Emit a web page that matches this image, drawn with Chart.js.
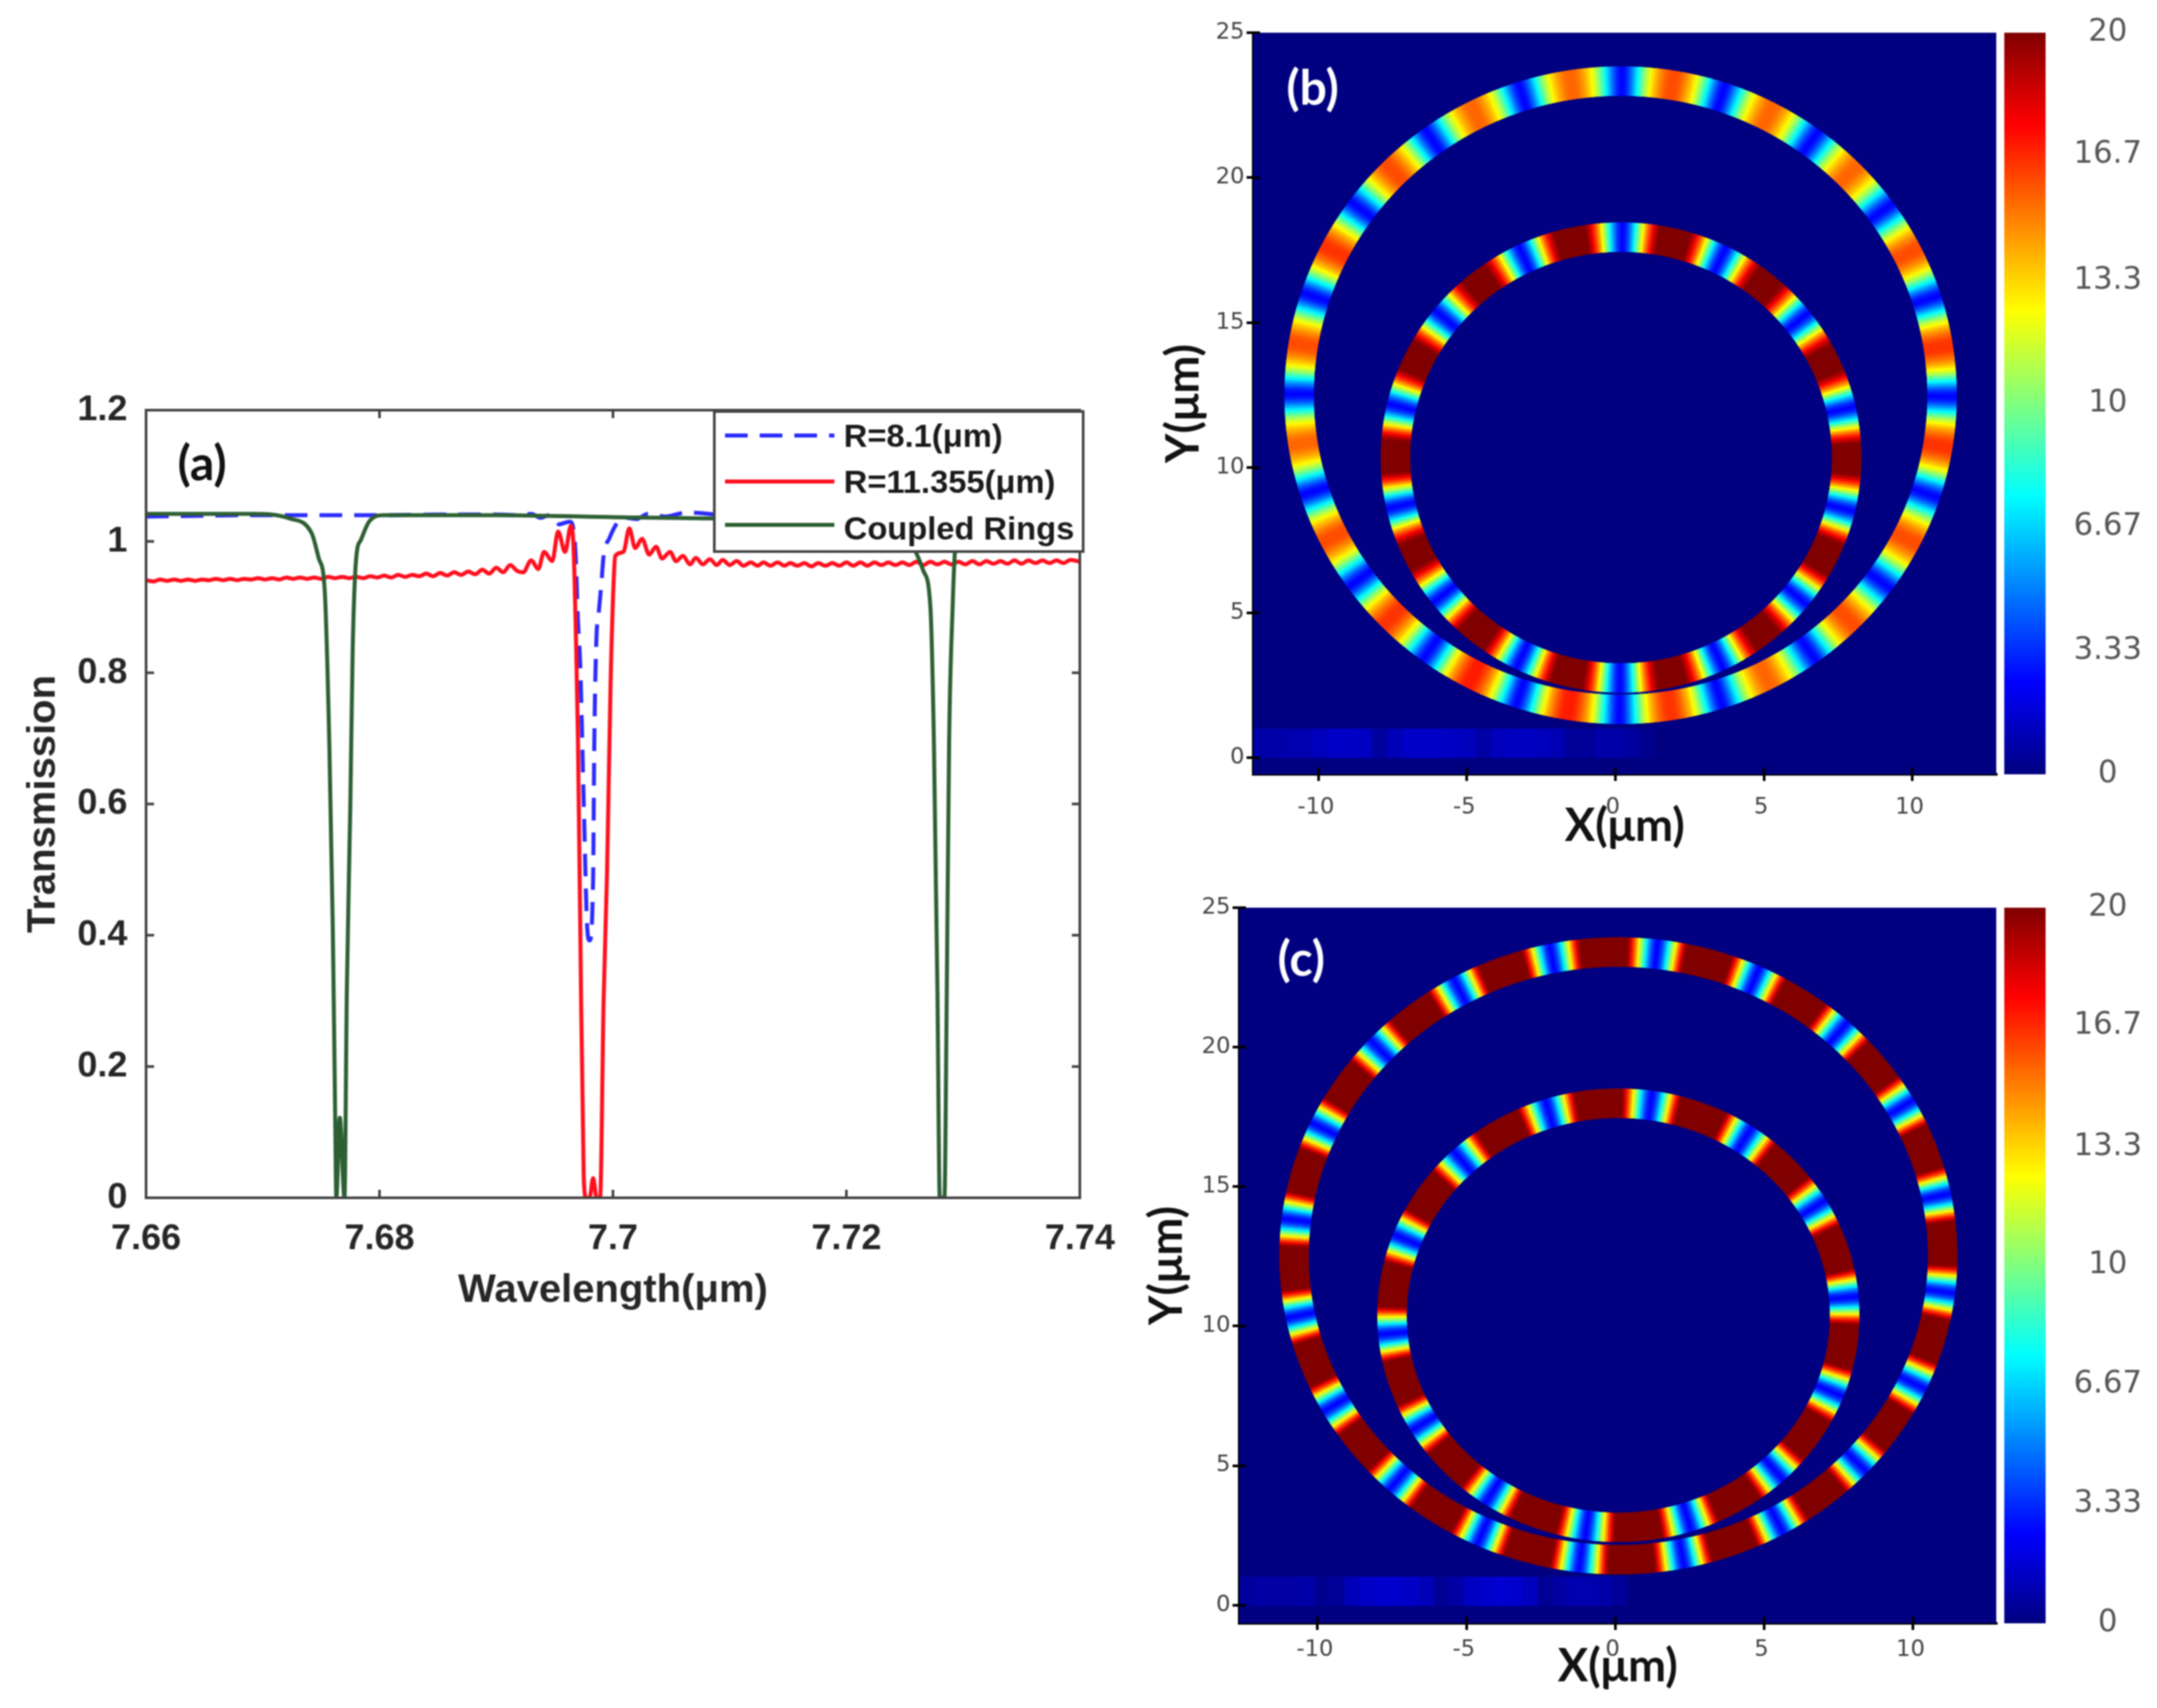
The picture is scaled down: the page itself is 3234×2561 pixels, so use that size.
<!DOCTYPE html>
<html>
<head>
<meta charset="utf-8">
<title>Coupled rings</title>
<script src="https://cdn.jsdelivr.net/npm/chart.js@4"></script>
<style>
  html, body { margin: 0; background: #fff; }
  #page { position: relative; width: 3234px; height: 2561px; overflow: hidden; background: #fff; }
  canvas { position: absolute; filter: blur(1px); }
</style>
</head>
<body>
<div id="page">
  <canvas id="chartA" width="1700" height="1500" style="left:0;top:500px"></canvas>
  <canvas id="chartB" width="1310" height="1280" style="left:1700px;top:0"></canvas>
  <canvas id="barB" width="229" height="1240" style="left:3005px;top:0"></canvas>
  <canvas id="chartC" width="1310" height="1241" style="left:1700px;top:1320px"></canvas>
  <canvas id="barC" width="229" height="1241" style="left:3005px;top:1320px"></canvas>
</div>
<script>
// ── Data: panel (a) ──────────────────────────────────────────────────────────

const wavelengthTicks = [7.66, 7.68, 7.7, 7.72, 7.74];
const transmissionTicks = [0, 0.2, 0.4, 0.6, 0.8, 1, 1.2];
const seriesNames = ['R=8.1(μm)', 'R=11.355(μm)', 'Coupled Rings'];

const blueX = [7.66, 7.67, 7.68, 7.685, 7.69, 7.692, 7.693, 7.6938, 7.6945, 7.695, 7.6954, 7.6958, 7.6963, 7.6966,
  7.6968, 7.697, 7.6972, 7.6975, 7.6978, 7.698, 7.6983, 7.6984, 7.6986, 7.6987, 7.699, 7.6992, 7.6997, 7.7004,
  7.7011, 7.702, 7.703, 7.7045, 7.7063, 7.71, 7.74];
const blueY = [1.038, 1.04, 1.04, 1.041, 1.041, 1.04, 1.042, 1.036, 1.04, 1.034, 1.026, 1.028, 1.03, 1.02,
  0.98, 0.88, 0.81, 0.6, 0.41, 0.392, 0.485, 0.69, 0.86, 0.877, 0.934, 0.978, 1.005, 1.029,
  1.036, 1.034, 1.042, 1.038, 1.044, 1.04, 1.04];

const redX = [
  7.6600, 7.6606, 7.6612, 7.6618, 7.6624, 7.6630, 7.6636, 7.6642,
  7.6648, 7.6654, 7.6660, 7.6666, 7.6672, 7.6678, 7.6684, 7.6690,
  7.6696, 7.6702, 7.6708, 7.6714, 7.6720, 7.6726, 7.6732, 7.6738,
  7.6744, 7.6750, 7.6756, 7.6762, 7.6768, 7.6774, 7.6780, 7.6786,
  7.6792, 7.6798, 7.6804, 7.6810, 7.6816, 7.6822, 7.6828, 7.6834,
  7.6840, 7.6846, 7.6852, 7.6858, 7.6864, 7.6870, 7.6876, 7.6882,
  7.6888, 7.6894, 7.6900, 7.6906, 7.6912, 7.6918,
  7.6923, 7.6930, 7.6936, 7.6941, 7.6948, 7.6953, 7.6959, 7.6964, 7.6966, 7.6967,
  7.6968, 7.6970, 7.6972, 7.6975, 7.6977, 7.6980, 7.6983, 7.6986, 7.6989, 7.6992,
  7.6995, 7.6998, 7.7001, 7.7002, 7.7009, 7.7014, 7.7019, 7.7025, 7.7031, 7.7037,
  7.7042, 7.7049, 7.7054, 7.7060, 7.7066, 7.7071, 7.7077, 7.7083, 7.7089, 7.7094,
  7.7100, 7.7106, 7.7112, 7.7118, 7.7124, 7.7129, 7.7135, 7.7141, 7.7147, 7.7152,
  7.7158, 7.7164, 7.7170, 7.7176, 7.7182, 7.7188, 7.7194, 7.7200, 7.7206, 7.7212,
  7.7218, 7.7224, 7.7230, 7.7236, 7.7242, 7.7248, 7.7254, 7.7260, 7.7266, 7.7272,
  7.7278, 7.7284, 7.7290, 7.7296, 7.7302, 7.7308, 7.7314, 7.7320, 7.7326, 7.7332,
  7.7338, 7.7344, 7.7350, 7.7356, 7.7362, 7.7368, 7.7374, 7.7380, 7.7386, 7.7392, 7.7400
];
const redY = [
  0.941, 0.939, 0.942, 0.940, 0.942, 0.940, 0.942, 0.940,
  0.942, 0.941, 0.943, 0.941, 0.943, 0.941, 0.943, 0.942,
  0.944, 0.942, 0.944, 0.942, 0.945, 0.943, 0.945, 0.943,
  0.945, 0.943, 0.946, 0.944, 0.946, 0.944, 0.946, 0.944,
  0.947, 0.945, 0.948, 0.945, 0.949, 0.946, 0.949, 0.947,
  0.951, 0.947, 0.952, 0.948, 0.953, 0.949, 0.954, 0.950,
  0.957, 0.951, 0.960, 0.953, 0.964, 0.955,
  0.953, 0.971, 0.958, 0.984, 0.970, 1.015, 0.984, 1.024, 1.000, 0.950,
  0.877, 0.700, 0.410, 0.030, 0, 0, 0.030, 0, 0, 0.300,
  0.500, 0.786, 0.955, 0.978, 0.984, 1.020, 0.990, 1.004, 0.980, 0.992,
  0.974, 0.984, 0.970, 0.978, 0.965, 0.975, 0.965, 0.973, 0.964, 0.972,
  0.964, 0.970, 0.963, 0.968, 0.963, 0.968, 0.963, 0.968, 0.963, 0.967,
  0.963, 0.967, 0.962, 0.967, 0.963, 0.967, 0.963, 0.968, 0.963, 0.968,
  0.963, 0.968, 0.964, 0.968, 0.964, 0.968, 0.964, 0.969, 0.964, 0.969,
  0.965, 0.969, 0.965, 0.969, 0.965, 0.970, 0.965, 0.970, 0.966, 0.970,
  0.966, 0.971, 0.966, 0.971, 0.967, 0.971, 0.967, 0.971, 0.967, 0.972, 0.969
];

const greenX = [7.66, 7.6692, 7.6723, 7.6742, 7.6748, 7.6753, 7.6757, 7.676, 7.6762, 7.6763, 7.6766, 7.677, 7.6772,
  7.6775, 7.6777, 7.678, 7.6784, 7.6791, 7.6803, 7.69, 7.7, 7.71, 7.72, 7.7258, 7.7266, 7.7272, 7.7275, 7.7278,
  7.728, 7.7284, 7.7286, 7.7288, 7.7291, 7.7293, 7.7298, 7.731, 7.74];
const greenY = [1.042, 1.042, 1.035, 1.012, 0.974, 0.927, 0.692, 0.409, 0.127, 0, 0.122, 0, 0.315,
  0.598, 0.833, 0.974, 1.002, 1.03, 1.04, 1.04, 1.037, 1.035, 1.035, 0.988, 0.955, 0.899, 0.692, 0.315,
  0, 0, 0.315, 0.692, 0.899, 0.984, 1.02, 1.035, 1.035];

// ── Data: panels (b) and (c) ─────────────────────────────────────────────────

const xTicksUm = [-10, -5, 0, 5, 10];
const yTicksUm = [0, 5, 10, 15, 20, 25];
const colorbarTicks = [0, 3.33, 6.67, 10, 13.3, 16.7, 20];
const colorbarTop = [20];

// jet colour map: field value, then r, g, b
const jetValues = [0, 2.5, 7.5, 12.5, 17.5, 20];
const jetColors = [[0, 0, 128], [0, 0, 255], [0, 255, 255], [255, 255, 0], [255, 0, 0], [128, 0, 0]];

// share of a lobe's height, node to node, read across one fringe
const lobeProfile = [0, 0.02, 0.06, 0.12, 0.19, 0.27, 0.35, 0.43, 0.51, 0.59, 0.66, 0.72, 0.78, 0.83, 0.87,
  0.91, 0.94, 0.97, 0.99, 1, 1, 1, 0.99, 0.97, 0.94, 0.91, 0.87, 0.83, 0.78, 0.72, 0.66, 0.59,
  0.51, 0.43, 0.35, 0.27, 0.19, 0.12, 0.06, 0.02];
const nodeField = 2.5;

// dark nodes round each ring, in degrees, then the height of the lobe after each node
const outerNodesB = [90, 72, 54, 36, 18, 0, -18, -36, -54, -72, -90, -108, -126, -144, -162, -180, -198, -216, -234, -252];
const outerPeaksB = [13.5, 13, 13, 13.5, 14, 14, 13.5, 13.5, 13, 14, 14.5, 14.5, 14, 13.5, 13, 13.5, 14, 13.5, 13, 13];
const innerNodesB = [90, 64.3, 38.6, 12.9, -12.9, -38.6, -64.3, -90, -115.7, -141.4, -167.1, -192.9, -218.6, -244.3];
const innerPeaksB = [20, 19.5, 19.5, 20, 20.5, 19.5, 19.5, 20, 20, 19.5, 20.5, 20, 19.5, 20];
const outerNodesC = [83.5, 65.5, 47.5, 29.5, 11.5, -6.5, -24.5, -42.5, -60.5, -78.5, -96.5, -114.5, -132.5, -150.5,
  -168.5, -186.5, -204.5, -222.5, -240.5, -258];
const outerPeaksC = [24, 24, 24, 24, 24, 24, 24, 24, 24, 24, 24, 24, 24, 24, 24, 24, 24, 24, 24, 24];
const innerNodesC = [82.2, 56.5, 30.8, 5.1, -20.6, -46.3, -72, -97.7, -123.4, -149.1, -174.8, -200.5, -226.2, -251.9];
const innerPeaksC = [24, 24, 24, 24, 24, 24, 24, 24, 24, 24, 24, 24, 24, 24];

// faint bus waveguide along the bottom of the maps
const busXB = [-12.2, -11.7, -11.2, -10.7, -10.2, -9.7, -9.2, -8.7, -8.2, -7.7, -7.2, -6.7, -6.2, -5.7, -5.2, -4.7, -4.2,
  -3.7, -3.2, -2.7, -2.2, -1.7, -1.2, -0.7, -0.2, 0.3, 0.8, 1.3];
const busFieldB = [0.8, 0.8, 0.9, 0.9, 1.2, 1.4, 1.4, 1.3, 0.6, 1.1, 1.4, 1.4, 1.4, 1.3, 1.2, 0.7, 1.2,
  1.3, 1.3, 1.2, 1, 0.5, 0.5, 0.8, 0.8, 0.6, 0.3, 0.1];
const busXC = [-12.6, -12.1, -11.6, -11.1, -10.6, -10.1, -9.6, -9.1, -8.6, -8.1, -7.6, -7.1, -6.6, -6.1, -5.6, -5.1, -4.6,
  -4.1, -3.6, -3.1, -2.6, -2.1, -1.6, -1.1, -0.6, -0.1, 0.4];
const busFieldC = [0.6, 0.7, 0.7, 0.7, 0.8, 0.3, 0.5, 1.1, 1.4, 1.5, 1.5, 1.4, 1.1, 0.4, 0.7, 1.3, 1.5,
  1.6, 1.5, 1.2, 0.4, 0.7, 0.9, 0.9, 0.8, 0.5, 0.1];

// ── Helpers ──────────────────────────────────────────────────────────────────

const SANS = '"Liberation Sans", Arial, sans-serif';
const LABEL_FONT = 'Lato, "Open Sans", sans-serif';
const THIN_FONT = '"DejaVu Sans", sans-serif';

function jet(v) {
  if (v >= jetValues[jetValues.length - 1]) return `rgb(${jetColors[jetColors.length - 1].join(',')})`;
  let i = 0;
  while (v > jetValues[i + 1]) i++;
  const t = (v - jetValues[i]) / (jetValues[i + 1] - jetValues[i]);
  const c = jetColors[i].map((a, k) => Math.round(a + (jetColors[i + 1][k] - a) * t));
  return `rgb(${c.join(',')})`;
}

function setTicks(list) {
  return scale => { scale.ticks = list.map(value => ({ value })); };
}

function xy(xs, ys) {
  return xs.map((x, i) => ({ x, y: ys[i] }));
}

// one ring as a thick line on the chart's own scales; shift moves it half a sample.
// the tiny tension keeps Chart.js off its fast path, which merges points sharing a pixel column
function ringDataset(ring, nodes, peaks, shift) {
  const pts = [], fields = [], n = lobeProfile.length;
  nodes.forEach((a, i) => {
    const next = i + 1 < nodes.length ? nodes[i + 1] : nodes[0] - 360;
    lobeProfile.forEach((p, j) => {
      const deg = (a + (next - a) * (j + shift) / n) * Math.PI / 180;
      pts.push({ x: ring.cx + ring.r * Math.cos(deg), y: ring.cy + ring.r * Math.sin(deg) });
      fields.push(nodeField + peaks[i] * p);
    });
  });
  pts.push(pts[0]);
  fields.push(fields[0]);
  return {
    type: 'scatter', showLine: true, data: pts, pointRadius: 0, borderWidth: 44, borderColor: '#000080', tension: 0.001,
    segment: { borderColor: ctx => jet(fields[ctx.p0DataIndex]) }
  };
}

function busDataset(xs, fields) {
  return {
    type: 'scatter', showLine: true, data: xs.map(x => ({ x, y: 0.5 })), pointRadius: 0, borderWidth: 44,
    borderColor: '#000080', segment: { borderColor: ctx => jet(fields[ctx.p0DataIndex]) }
  };
}

const panelExtras = {
  id: 'panelExtras',
  beforeDatasetsDraw(chart, args, o) {
    if (!o.background) return;
    const a = chart.chartArea, c = chart.ctx;
    c.fillStyle = o.background;
    c.fillRect(a.left, a.top, a.width, a.height);
  },
  afterDatasetsDraw(chart, args, o) {
    const a = chart.chartArea, c = chart.ctx, sx = chart.scales.x, sy = chart.scales.y;
    c.save();
    if (o.frame) {
      c.strokeStyle = o.frame; c.lineWidth = 4;
      c.strokeRect(a.left, a.top, a.width, a.height);
    }
    if (o.tickLength) {
      const t = o.tickLength;
      c.strokeStyle = o.tickColor; c.lineWidth = 4;
      c.beginPath();
      sx.ticks.forEach(k => {
        const p = sx.getPixelForValue(k.value);
        c.moveTo(p, a.bottom); c.lineTo(p, a.bottom - t);
        if (o.mirror) { c.moveTo(p, a.top); c.lineTo(p, a.top + t); }
      });
      sy.ticks.forEach(k => {
        const p = sy.getPixelForValue(k.value);
        c.moveTo(a.left, p); c.lineTo(a.left + t, p);
        if (o.mirror) { c.moveTo(a.right, p); c.lineTo(a.right - t, p); }
      });
      c.stroke();
    }
    if (o.legend) {
      const l = o.legend;
      c.fillStyle = '#fff'; c.fillRect(l.left, l.top, l.width, l.height);
      c.strokeStyle = '#444'; c.lineWidth = 4; c.strokeRect(l.left, l.top, l.width, l.height);
      chart.data.datasets.forEach((d, i) => {
        const y = l.rows[i];
        c.strokeStyle = d.borderColor; c.lineWidth = d.borderWidth;
        c.setLineDash(d.borderDash || []);
        c.beginPath(); c.moveTo(l.lineFrom, y); c.lineTo(l.lineTo, y); c.stroke();
        c.setLineDash([]);
        c.fillStyle = '#1a1a1a'; c.font = `bold ${l.fontSize}px ${SANS}`;
        c.textAlign = 'left'; c.textBaseline = 'middle';
        c.fillText(d.label, l.textX, y + l.textNudge[i]);
      });
    }
    c.fillStyle = o.tagColor;
    c.font = `bold 72px ${LABEL_FONT}`;
    c.textAlign = 'center'; c.textBaseline = 'middle';
    c.fillText(o.tag, o.tagX, o.tagY);
    c.restore();
  }
};

// ── Charts ───────────────────────────────────────────────────────────────────

function lineStyle(label, data, color, width, order, dash) {
  return { label, data, borderColor: color, borderWidth: width, order, borderDash: dash, pointRadius: 0, cubicInterpolationMode: 'monotone', showLine: true };
}

new Chart(document.getElementById('chartA'), {
  type: 'scatter',
  data: {
    datasets: [
      lineStyle(seriesNames[0], xy(blueX, blueY), '#2a2aff', 6, 3, [34, 18]),
      lineStyle(seriesNames[1], xy(redX, redY), '#ff0f1e', 6, 2),
      lineStyle(seriesNames[2], xy(greenX, greenY), '#2c5f32', 6, 1)
    ]
  },
  options: {
    responsive: false, animation: false, devicePixelRatio: 1,
    layout: { padding: { left: 29, top: 115, right: 81, bottom: 29 } },
    plugins: {
      legend: { display: false }, tooltip: { enabled: false },
      panelExtras: {
        frame: '#444', tickLength: 12, tickColor: '#444', mirror: true,
        tag: '(a)', tagX: 303, tagY: 197, tagColor: '#111',
        legend: { left: 1071, top: 117, width: 553, height: 210, lineFrom: 1087, lineTo: 1251, textX: 1265, fontSize: 49, rows: [153, 222, 287], textNudge: [3, 3, 8] }
      }
    },
    scales: {
      x: {
        type: 'linear', min: 7.66, max: 7.74, afterBuildTicks: setTicks(wavelengthTicks), afterFit: s => { s.height = 175; },
        grid: { display: false }, border: { color: '#444', width: 4 },
        ticks: { font: { family: SANS, size: 54, weight: 'bold' }, color: '#262626', maxRotation: 0, autoSkip: false, padding: 22, callback: v => String(v) },
        title: { display: true, text: 'Wavelength(μm)', font: { family: SANS, size: 60, weight: 'bold' }, color: '#262626', padding: 0 }
      },
      y: {
        min: 0, max: 1.2, afterBuildTicks: setTicks(transmissionTicks), afterFit: s => { s.width = 190; },
        grid: { display: false }, border: { color: '#444', width: 4 },
        ticks: { font: { family: SANS, size: 54, weight: 'bold' }, color: '#262626', autoSkip: false, padding: 20, callback: v => String(v) },
        title: { display: true, text: 'Transmission', font: { family: SANS, size: 60, weight: 'bold' }, color: '#262626', padding: 0 }
      }
    }
  },
  plugins: [panelExtras]
});

function mapChart(id, cfg) {
  const datasets = [
    busDataset(cfg.busX, cfg.busField),
    ringDataset(cfg.outer, cfg.outerNodes, cfg.outerPeaks, 0),
    ringDataset(cfg.outer, cfg.outerNodes, cfg.outerPeaks, 0.5),
    ringDataset(cfg.inner, cfg.innerNodes, cfg.innerPeaks, 0),
    ringDataset(cfg.inner, cfg.innerNodes, cfg.innerPeaks, 0.5)
  ];
  return new Chart(document.getElementById(id), {
    type: 'scatter',
    data: { datasets },
    options: {
      responsive: false, animation: false, devicePixelRatio: 1,
      layout: { padding: cfg.padding },
      plugins: {
        legend: { display: false }, tooltip: { enabled: false },
        panelExtras: { background: '#000080', tickLength: 10, tickColor: '#000', tag: cfg.tag, tagX: cfg.tagX, tagY: cfg.tagY, tagColor: '#fff' }
      },
      scales: {
        x: {
          type: 'linear', min: cfg.xMin, max: cfg.xMax, afterBuildTicks: setTicks(xTicksUm), afterFit: s => { s.height = cfg.xHeight; },
          grid: { drawOnChartArea: false, tickLength: 10, color: '#000', lineWidth: 4 }, border: { color: '#000', width: 4 },
          ticks: { font: { family: THIN_FONT, size: 34 }, color: '#444', maxRotation: 0, autoSkip: false, padding: cfg.xTickPad, labelOffset: -4, callback: v => String(v) },
          title: { display: true, text: 'X(μm)', font: { family: LABEL_FONT, size: 68, weight: 'bold' }, color: '#111', padding: 0 }
        },
        y: {
          min: cfg.yMin, max: 25, afterBuildTicks: setTicks(yTicksUm), afterFit: s => { s.width = cfg.yWidth; },
          grid: { drawOnChartArea: false, tickLength: 10, color: '#000', lineWidth: 4 }, border: { color: '#000', width: 4 },
          ticks: { font: { family: THIN_FONT, size: 34 }, color: '#444', autoSkip: false, padding: 3, callback: v => String(v) },
          title: { display: true, text: 'Y(μm)', font: { family: LABEL_FONT, size: 68, weight: 'bold' }, color: '#111', padding: 0 }
        }
      }
    },
    plugins: [panelExtras]
  });
}

mapChart('chartB', {
  busX: busXB, busField: busFieldB,
  outer: { cx: 0.175, cy: 12.5, r: 10.83 }, outerNodes: outerNodesB, outerPeaks: outerPeaksB,
  inner: { cx: 0.19, cy: 10.35, r: 7.6 }, innerNodes: innerNodesB, innerPeaks: innerPeaksB,
  padding: { left: 34, top: 49, right: 17, bottom: 0 }, xHeight: 119, yWidth: 145, xTickPad: 20,
  xMin: -12.2, xMax: 12.83, yMin: -0.57, tag: '(b)', tagX: 268, tagY: 134
});

mapChart('chartC', {
  busX: busXC, busField: busFieldC,
  outer: { cx: 0.1, cy: 12.52, r: 10.89 }, outerNodes: outerNodesC, outerPeaks: outerPeaksC,
  inner: { cx: 0.1, cy: 10.39, r: 7.6 }, innerNodes: innerNodesC, innerPeaks: innerPeaksC,
  padding: { left: 9, top: 41, right: 17, bottom: 21 }, xHeight: 106, yWidth: 149, xTickPad: 10,
  xMin: -12.63, xMax: 12.79, yMin: -0.65, tag: '(c)', tagX: 251, tagY: 120
});

function colorbar(id, top, bottom) {
  new Chart(document.getElementById(id), {
    type: 'bar',
    data: {
      labels: [''],
      datasets: [{
        data: colorbarTop, barPercentage: 1, categoryPercentage: 1,
        backgroundColor: ctx => {
          const a = ctx.chart.chartArea;
          if (!a) return '#000080';
          const g = ctx.chart.ctx.createLinearGradient(0, a.bottom, 0, a.top);
          jetValues.forEach((v, i) => g.addColorStop(v / 20, `rgb(${jetColors[i].join(',')})`));
          return g;
        }
      }]
    },
    options: {
      responsive: false, animation: false, devicePixelRatio: 1,
      layout: { padding: { top, bottom } },
      plugins: { legend: { display: false }, tooltip: { enabled: false } },
      scales: {
        x: { display: false },
        y: {
          position: 'right', min: 0, max: 20, afterBuildTicks: setTicks(colorbarTicks),
          afterFit: s => { s.width = 167; s.paddingTop = 0; s.paddingBottom = 0; },
          grid: { display: false }, border: { display: false },
          ticks: { font: { family: THIN_FONT, size: 46 }, color: '#555', crossAlign: 'center', padding: 34, autoSkip: false, callback: v => String(v) }
        }
      }
    }
  });
}

colorbar('barB', 49, 79);
colorbar('barC', 41, 127);
</script>
</body>
</html>
